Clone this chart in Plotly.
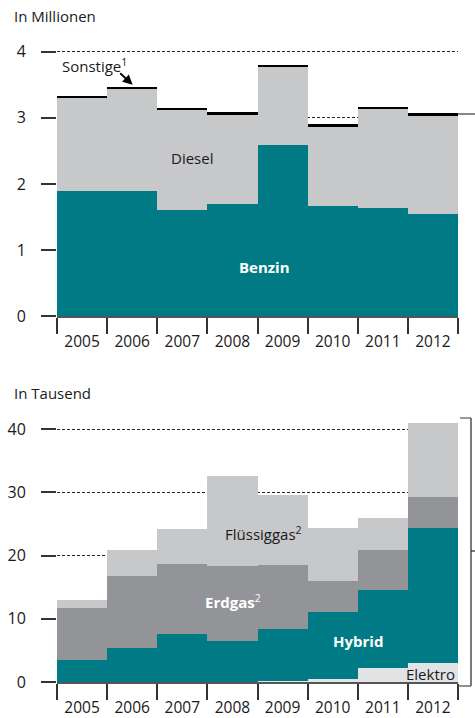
import plotly.graph_objects as go

years = [2005, 2006, 2007, 2008, 2009, 2010, 2011, 2012]
year_labels = [str(y) for y in years]

# Top panel (Millionen)
benzin = [1.89, 1.90, 1.61, 1.69, 2.59, 1.67, 1.64, 1.55]
diesel = [1.425, 1.54, 1.51, 1.36, 1.18, 1.20, 1.50, 1.48]
sonstige = [0.015, 0.03, 0.03, 0.04, 0.03, 0.03, 0.03, 0.04]
top_ticks = [0, 1, 2, 3, 4]

# Bottom panel (Tausend)
elektro = [0.0, 0.0, 0.0, 0.0, 0.2, 0.5, 2.3, 3.05]
hybrid = [3.6, 5.4, 7.6, 6.5, 8.3, 10.7, 12.4, 21.35]
erdgas = [8.1, 11.4, 11.2, 11.9, 10.0, 4.9, 6.3, 5.0]
fluessiggas = [1.4, 4.2, 5.4, 14.2, 11.2, 8.3, 5.0, 11.6]
bottom_ticks = [0, 10, 20, 30, 40]

TEAL = "#007A84"
LIGHT = "#C7C8CA"
MID = "#929497"
PALE = "#E2E3E5"
FONT = "Open Sans"

fig = go.Figure()

def bar(vals, color, xa, ya, name):
    fig.add_trace(go.Bar(x=years, y=vals, width=1, marker=dict(color=color, line=dict(width=0)),
                         xaxis=xa, yaxis=ya, name=name, showlegend=False))

bar(benzin, TEAL, "x", "y", "Benzin")
bar(diesel, LIGHT, "x", "y", "Diesel")
bar(sonstige, "#000000", "x", "y", "Sonstige")

bar(elektro, PALE, "x2", "y2", "Elektro")
bar(hybrid, TEAL, "x2", "y2", "Hybrid")
bar(erdgas, MID, "x2", "y2", "Erdgas")
bar(fluessiggas, LIGHT, "x2", "y2", "Flüssiggas")

xcommon = dict(
    range=[2004.5, 2012.5], tickmode="array", tickvals=years, ticktext=year_labels,
    ticks="", showline=True, linecolor="#555555", linewidth=1.5, showgrid=False,
    zeroline=False, tickfont=dict(family=FONT, size=15.5, color="#1a1a1a"),
    minor=dict(tickmode="array", tickvals=[y - 0.5 for y in years] + [2012.5],
               ticks="outside", ticklen=16, tickwidth=1.5, tickcolor="#333333", showgrid=False),
    ticklabelstandoff=11, fixedrange=True, automargin=False,
)
ycommon = dict(
    tickmode="array", ticks="outside", ticklen=15, tickwidth=1.5, tickcolor="#333333",
    showline=False, showgrid=True, gridcolor="#222222", gridwidth=1, griddash="3px,2px",
    zeroline=False, tickfont=dict(family=FONT, size=16, color="#1a1a1a"),
    ticklabelstandoff=12, fixedrange=True, automargin=False,
)

fig.update_layout(
    width=475, height=718,
    margin=dict(l=57, r=17, t=32, b=36, autoexpand=False),
    plot_bgcolor="white", paper_bgcolor="white",
    barmode="stack", bargap=0,
    font=dict(family=FONT, size=15, color="#1a1a1a"),
    xaxis=dict(**xcommon, anchor="y"),
    yaxis=dict(**ycommon, range=[0, 4.3], tickvals=top_ticks, domain=[0.5631, 1.0], anchor="x"),
    xaxis2=dict(**xcommon, anchor="y2"),
    yaxis2=dict(**ycommon, range=[0, 42], tickvals=bottom_ticks, domain=[0.0, 0.4083], anchor="x2"),
)

ann = []
def paper_px(px, py):
    return (px - 57) / 401.0, (682 - py) / 650.0

def txt(text, x, y, xref="x", yref="y", color="#1a1a1a", bold=False, size=15, xanchor="center"):
    ann.append(dict(text=(f"<b>{text}</b>" if bold else text), x=x, y=y, xref=xref, yref=yref,
                    showarrow=False, xanchor=xanchor, yanchor="middle",
                    font=dict(family=FONT, size=size, color=color)))

for t, px, py in [("In Millionen", 12, 16), ("In Tausend", 12, 393)]:
    xp, yp = paper_px(px, py)
    ann.append(dict(text=t, x=xp, y=yp, xref="paper", yref="paper", showarrow=False,
                    xanchor="left", yanchor="middle", font=dict(family=FONT, size=15, color="#1a1a1a")))

txt("Sonstige<sup>1</sup>", 2004.56, 3.80, xanchor="left")
txt("Diesel", 2007.19, 2.39)
txt("Benzin", 2008.63, 0.74, color="white", bold=True)

txt("Flüssiggas<sup>2</sup>", 2008.61, 23.56, xref="x2", yref="y2")
txt("<b>Erdgas</b><sup>2</sup>", 2008.01, 12.8, xref="x2", yref="y2", color="white")
txt("Hybrid", 2010.50, 6.48, xref="x2", yref="y2", color="white", bold=True)
txt("Elektro", 2011.96, 1.26, xref="x2", yref="y2")

# arrow for Sonstige
ann.append(dict(x=2006.01, y=3.50, xref="x", yref="y", ax=-14, ay=-13, axref="pixel", ayref="pixel",
                text="", showarrow=True, arrowhead=2, arrowsize=1.1, arrowwidth=1.8, arrowcolor="#000000"))

fig.update_layout(annotations=ann)

# connector / bracket decorations
def pline(x0, y0, x1, y1, color="#555555", width=1.5):
    a, b = paper_px(x0, y0)
    c, d = paper_px(x1, y1)
    fig.add_shape(type="line", x0=a, y0=b, x1=c, y1=d, xref="paper", yref="paper",
                  line=dict(color=color, width=width))

pline(458, 114, 475, 114, color="#888888", width=2)
pline(460, 418, 471, 418, color="#777777", width=1.5)
pline(471, 418, 471, 686, color="#333333", width=1.3)
pline(458, 686, 471, 686, color="#555555", width=1.3)
pline(471, 551, 475, 551, color="#333333", width=1.3)

fig.write_html("out.html", config={"displayModeBar": False},
               post_script="document.body.style.margin='0';document.body.style.overflow='hidden';")
